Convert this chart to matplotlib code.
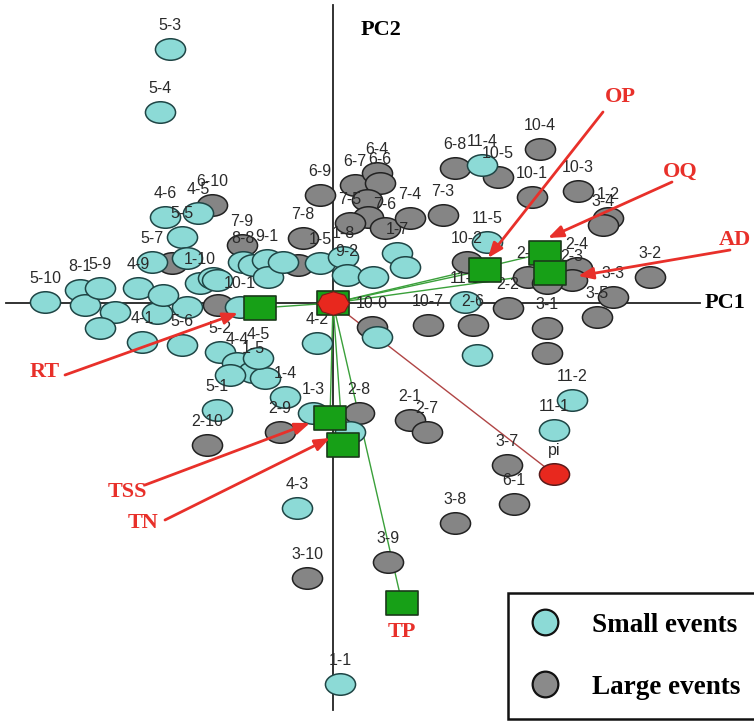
import matplotlib
matplotlib.use("Agg")
import matplotlib.pyplot as plt
from matplotlib.path import Path
from matplotlib.transforms import Affine2D
from matplotlib.lines import Line2D
import numpy as np

# ---------------- data (PC scores) ----------------
small_x = [-1.63, -1.73, -2.88, -2.53, -2.48, -2.33, -2.18, -2.33, -1.95, -1.81,
           -1.51, -1.76, -1.46, -1.33, -1.20, -1.91, -1.51, -1.70, -1.68, -1.35,
           -1.46, -0.90, -0.80, -0.66, -0.65, -0.50, -1.16, -0.13, 0.10, 0.14,
           0.40, 0.64, 0.72, -0.93, -0.16, -1.13, -0.96, -0.80, -0.68, -1.03,
           -0.75, -0.48, -1.16, -0.20, 0.17, -0.36, 0.07, 1.49, 1.54, 1.32,
           1.44, 2.39, 2.21, 0.44]
small_y = [2.54, 1.91, 0.01, 0.13, -0.02, 0.15, -0.09, -0.25, 0.15, 0.41,
           0.66, -0.10, -0.04, 0.20, 0.25, -0.39, -0.42, 0.08, 0.86, 0.90,
           0.45, 0.41, 0.38, 0.43, 0.26, 0.41, 0.23, 0.40, 0.46, 0.28,
           0.26, 0.50, 0.36, -0.04, -0.40, -0.49, -0.60, -0.69, -0.75, -0.72,
           -0.55, -0.94, -1.07, -1.10, -1.29, -2.05, -3.81, 1.38, 0.61, 0.01,
           -0.52, -0.97, -1.27, -0.34]
small_lab = ["5-3", "5-4", "5-10", "8-1", "", "5-9", "", "", "4-9", "5-7",
             "5-5", "", "", "1-10", "", "4-1", "5-6", "", "4-6", "4-5",
             "", "8-8", "", "9-1", "", "", "", "1-5", "1-8", "9-2",
             "", "1-7", "", "10-1", "4-2", "5-2", "4-4", "1-5", "", "",
             "4-5", "1-4", "5-1", "1-3", "", "4-3", "1-1", "11-4", "11-5", "11-3",
             "", "11-2", "11-1", ""]

large_x = [-1.21, -1.61, -1.15, -0.91, -0.30, -0.35, -0.13, 0.22, 0.44, 0.47,
           0.34, 0.35, 0.17, 0.52, 0.77, 1.10, 1.22, 1.65, 2.07, 1.99,
           2.45, 2.75, 2.70, 1.34, 1.95, 2.44, 2.39, 2.14, 3.17, 2.80,
           2.64, 2.14, 2.14, 1.75, 1.40, 0.95, 0.39, 0.26, 0.77, 0.94,
           -1.26, -0.53, 1.74, 1.81, 1.22, 0.55, -0.26]
large_y = [0.98, 0.40, -0.02, 0.58, 0.65, 0.38, 1.08, 1.18, 1.30, 1.20,
           1.03, 0.86, 0.80, 0.75, 0.85, 0.88, 1.35, 1.26, 1.54, 1.06,
           1.12, 0.85, 0.78, 0.41, 0.26, 0.35, 0.23, 0.20, 0.26, 0.06,
           -0.14, -0.25, -0.50, -0.05, -0.22, -0.22, -0.24, -1.10, -1.17, -1.29,
           -1.42, -1.29, -1.62, -2.01, -2.20, -2.59, -2.75]
large_lab = ["6-10", "", "", "7-9", "7-8", "", "6-9", "6-7", "6-4", "6-6",
             "", "", "7-5", "7-6", "7-4", "7-3", "6-8", "10-5", "10-4", "10-1",
             "10-3", "1-2", "3-4", "10-2", "2-5", "2-4", "2-3", "", "3-2", "3-3",
             "3-5", "3-1", "", "2-2", "2-6", "10-7", "10-0", "2-8", "2-1", "2-7",
             "2-10", "2-9", "3-7", "6-1", "3-8", "3-9", "3-10"]

var_names = ["RT", "OP", "OQ", "AD", "TSS", "TN", "TP"]
var_x = [-0.73, 1.52, 2.12, 2.17, -0.03, 0.10, 0.69]
var_y = [-0.05, 0.33, 0.50, 0.30, -1.15, -1.42, -3.00]

pi_name = "pi"
pi_x, pi_y = 2.21, -1.71

# annotation label positions (text, arrow tail, arrow head)
ann_names = ["OP", "OQ", "AD", "RT", "TSS", "TN"]
ann_text_xy = [(2.87, 2.06), (3.47, 1.31), (4.02, 0.63), (-2.88, -0.69), (-2.06, -1.89), (-1.90, -2.20)]
ann_tail_xy = [(2.70, 1.91), (3.39, 1.21), (3.97, 0.53), (-2.68, -0.72), (-1.88, -1.82), (-1.68, -2.17)]
ann_head_xy = [(1.55, 0.45), (2.15, 0.65), (2.45, 0.27), (-0.95, -0.10), (-0.23, -1.20), (-0.03, -1.35)]

# ---------------- styles ----------------
CYAN = "#8cdad6"
CYAN_EDGE = "#1f4545"
GRAY = "#858585"
GRAY_EDGE = "#222222"
GREEN = "#17a017"
RED = "#e8281e"
ARROW_RED = "#e8302a"
LINE_GREEN = "#3aa03a"

ell_marker = Affine2D().scale(1.4, 1.0).transform_path(Path.unit_circle())
rect_marker = Path([(-1.35, -1), (1.35, -1), (1.35, 1), (-1.35, 1), (-1.35, -1)],
                   [Path.MOVETO, Path.LINETO, Path.LINETO, Path.LINETO, Path.CLOSEPOLY])
oct_marker = Affine2D().scale(1.35, 1.0).transform_path(Path.unit_regular_polygon(8))

fig = plt.figure(figsize=(7.54, 7.22), dpi=100)
ax = fig.add_axes([0, 0, 1, 1])
ax.set_xlim(-3.33, 4.21)
ax.set_ylim(-4.19, 3.03)
ax.axis("off")

# axes lines
ax.plot([0, 0], [2.98, -4.07], color="#222222", lw=1.3, zorder=1)
ax.plot([-3.27, 3.67], [0, 0], color="#222222", lw=1.3, zorder=1)
serif = ["Liberation Serif", "DejaVu Serif"]
ax.text(3.72, 0.0, "PC1", fontsize=16, fontweight="bold", family=serif, va="center", ha="left")
ax.text(0.28, 2.73, "PC2", fontsize=16, fontweight="bold", family=serif, va="center", ha="left")

# loading lines
for vx, vy in zip(var_x, var_y):
    ax.plot([0, vx], [0, vy], color=LINE_GREEN, lw=1.0, zorder=2)
ax.plot([0, pi_x], [0, pi_y], color="#b04545", lw=1.0, zorder=2)

# points
ax.scatter(large_x, large_y, s=470, marker=ell_marker, facecolor=GRAY,
           edgecolor=GRAY_EDGE, linewidths=1.1, zorder=3)
ax.scatter(small_x, small_y, s=470, marker=ell_marker, facecolor=CYAN,
           edgecolor=CYAN_EDGE, linewidths=1.1, zorder=3)

lab_font = dict(fontsize=11.5, color="#2a2a2a", ha="center", va="center", zorder=4,
                family=["Liberation Sans", "DejaVu Sans"])
for x, y, t in zip(large_x, large_y, large_lab):
    if t:
        ax.text(x, y + 0.235, t, **lab_font)
for x, y, t in zip(small_x, small_y, small_lab):
    if t:
        ax.text(x, y + 0.235, t, **lab_font)

# variable squares
ax.scatter(var_x, var_y, s=530, marker=rect_marker, facecolor=GREEN,
           edgecolor="#1a3a1a", linewidths=1.2, zorder=5)
ax.scatter([0], [0], s=530, marker=rect_marker, facecolor=GREEN,
           edgecolor="#1a3a1a", linewidths=1.2, zorder=5)
ax.scatter([0], [0], s=520, marker=oct_marker, facecolor=RED,
           edgecolor="#7a1a1a", linewidths=0.8, zorder=6)
ax.scatter([pi_x], [pi_y], s=470, marker=ell_marker, facecolor=RED,
           edgecolor="#5a1a1a", linewidths=1.1, zorder=5)
ax.text(pi_x, pi_y + 0.235, pi_name, **lab_font)

# red annotations
for name, txy, tail, head in zip(ann_names, ann_text_xy, ann_tail_xy, ann_head_xy):
    ax.text(txy[0], txy[1], name, fontsize=16, fontweight="bold", family=serif,
            color=ARROW_RED, ha="center", va="center", zorder=7)
    ax.annotate("", xy=head, xytext=tail,
                arrowprops=dict(arrowstyle="-|>,head_length=0.9,head_width=0.35",
                                color=ARROW_RED, lw=2.0, shrinkA=0, shrinkB=0), zorder=7)
ax.text(var_x[6], var_y[6] - 0.29, "TP", fontsize=16, fontweight="bold", family=serif,
        color=ARROW_RED, ha="center", va="center", zorder=7)

# legend
handles = [Line2D([], [], ls="none", marker="o", markersize=18.5, markerfacecolor=CYAN,
                  markeredgecolor="#111111", markeredgewidth=1.6, label="Small events"),
           Line2D([], [], ls="none", marker="o", markersize=18.5, markerfacecolor="#8a8a8a",
                  markeredgecolor="#111111", markeredgewidth=1.6, label="Large events")]
leg = ax.legend(handles=handles, loc="upper left",
                bbox_to_anchor=(508 / 754, 1 - 593 / 722), bbox_transform=fig.transFigure,
                borderaxespad=0, frameon=True, fancybox=False, framealpha=1,
                edgecolor="#111111", borderpad=0.72, handlelength=1.3, handletextpad=1.1,
                labelspacing=1.37, prop=dict(family=serif, weight="bold", size=19.5))
leg.get_frame().set_linewidth(1.8)
leg.set_zorder(10)

fig.savefig("out.png", dpi=100)
